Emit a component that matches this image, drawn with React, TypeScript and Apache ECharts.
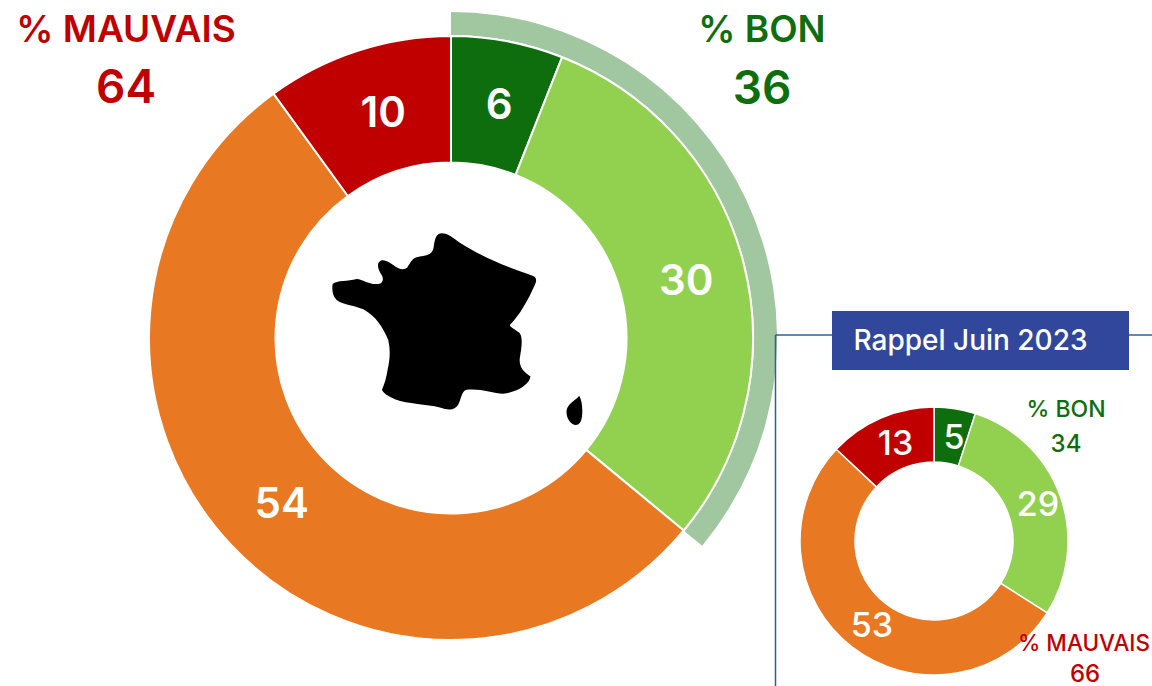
import React, { useEffect, useRef } from "react";
import * as echarts from "echarts";

const categories = ["Très bon", "Plutôt bon", "Plutôt mauvais", "Très mauvais"];
const currentValues = [6, 30, 54, 10];
const previousValues = [5, 29, 53, 13];
const currentGood = 36;
const currentBad = 64;
const previousGood = 34;
const previousBad = 66;
const sliceColors = ["#0E6E0E", "#92D050", "#E97822", "#C00000"];
const FONT = "Inter";

const FRANCE_PATH =
  "M365 40C385 40 400 55 420 68C470 100 540 135 640 168C652 172 650 185 645 195C625 240 600 285 570 315C570 322 590 330 600 340C610 355 605 385 600 415C597 440 610 455 632 470C630 490 600 515 550 522C520 520 480 505 440 510C425 515 425 535 415 555C405 572 385 572 360 563C320 552 265 553 225 538C205 530 190 520 186 510C195 490 200 470 203 450C210 420 212 390 205 360C190 325 170 290 130 268C100 255 70 255 50 240C38 228 35 210 38 192C50 180 85 185 110 177C130 178 145 195 175 192C190 190 192 175 185 165C175 150 170 135 178 125C190 115 205 125 220 135C235 147 250 152 262 143C270 130 275 118 290 112C305 108 325 108 335 97C345 85 340 65 350 48C355 42 360 40 365 40Z" +
  "M778 528C790 545 790 590 783 605C775 620 760 618 750 605C738 590 738 570 745 560C755 545 770 540 778 528Z";

echarts.graphic.registerShape("france", echarts.graphic.extendPath(FRANCE_PATH, {}) as any);

const toData = (values: number[], offsets: number[][]) =>
  values.map((value, i) => ({
    name: categories[i],
    value,
    itemStyle: { color: sliceColors[i] },
    label: { offset: offsets[i] },
  }));

const currentOffsets = [[3, 3], [1, 2], [7, -1], [7, 3]];
const previousOffsets = [[3, 4], [1, 0], [5, -3], [5, 2]];

function txt(text: string, x: number, y: number, size: number, color: string, weight = 600) {
  return {
    type: "text",
    x,
    y,
    z: 100,
    style: { text, fill: color, font: `${weight} ${size}px "${FONT}"`, textAlign: "center", textVerticalAlign: "middle" },
  };
}

export default function App() {
  const ref = useRef<HTMLDivElement>(null);
  useEffect(() => {
    const chart = echarts.init(ref.current!, null, { renderer: "svg" });
    chart.setOption({
      animation: false,
      backgroundColor: "#ffffff",
      series: [
        {
          type: "pie",
          center: [451, 338],
          radius: [303, 326],
          silent: true,
          startAngle: 90,
          label: { show: false },
          labelLine: { show: false },
          data: [
            { name: "% BON", value: currentGood, itemStyle: { color: "#A0C7A0" } },
            { name: "% MAUVAIS", value: currentBad, itemStyle: { color: "rgba(0,0,0,0)" } },
          ],
        },
        {
          type: "pie",
          center: [451, 338],
          radius: [175.5, 302],
          startAngle: 90,
          sort: null,
          itemStyle: { borderColor: "#ffffff", borderWidth: 2 },
          label: {
            show: true,
            position: "inside",
            formatter: "{c}",
            color: "#ffffff",
            fontFamily: FONT,
            fontWeight: 600,
            fontSize: 42,
          },
          labelLine: { show: false },
          data: toData(currentValues, currentOffsets),
        },
        {
          type: "pie",
          center: [934, 541],
          radius: [79, 134],
          startAngle: 90,
          sort: null,
          itemStyle: { borderColor: "#ffffff", borderWidth: 1.5 },
          label: {
            show: true,
            position: "inside",
            formatter: "{c}",
            color: "#ffffff",
            fontFamily: FONT,
            fontWeight: 500,
            fontSize: 34,
          },
          labelLine: { show: false },
          data: toData(previousValues, previousOffsets),
        },
      ],
      graphic: [
        { type: "france", x: 320, y: 220, scaleX: 1 / 3, scaleY: 1 / 3, z: 50, style: { fill: "#000000" } },
        { type: "line", z: 60, shape: { x1: 775.5, y1: 335, x2: 1152, y2: 335 }, style: { stroke: "#2F5F98", lineWidth: 1.5 } },
        { type: "line", z: 60, shape: { x1: 775.5, y1: 335, x2: 775.5, y2: 686 }, style: { stroke: "#2F5F98", lineWidth: 1.5 } },
        { type: "rect", z: 70, shape: { x: 832, y: 311, width: 297, height: 59 }, style: { fill: "#31479C" } },
        txt("Rappel Juin 2023", 970.5, 340, 28, "#ffffff", 500),
        txt("% MAUVAIS", 126, 28, 37, "#C00000", 600),
        txt(String(currentBad), 126, 86, 46, "#C00000"),
        txt("% BON", 762, 28, 37, "#0E6E0E", 600),
        txt(String(currentGood), 762, 87, 46, "#0E6E0E"),
        txt("% BON", 1066, 409, 23, "#0E6E0E", 500),
        txt(String(previousGood), 1066, 443, 24, "#0E6E0E", 500),
        txt("% MAUVAIS", 1084, 642, 22.5, "#C00000", 500),
        txt(String(previousBad), 1085, 673, 24, "#C00000", 500),
      ],
    });
    return () => chart.dispose();
  }, []);
  return <div ref={ref} style={{ position: "fixed", left: 0, top: 0, width: 1152, height: 686 }} />;
}
